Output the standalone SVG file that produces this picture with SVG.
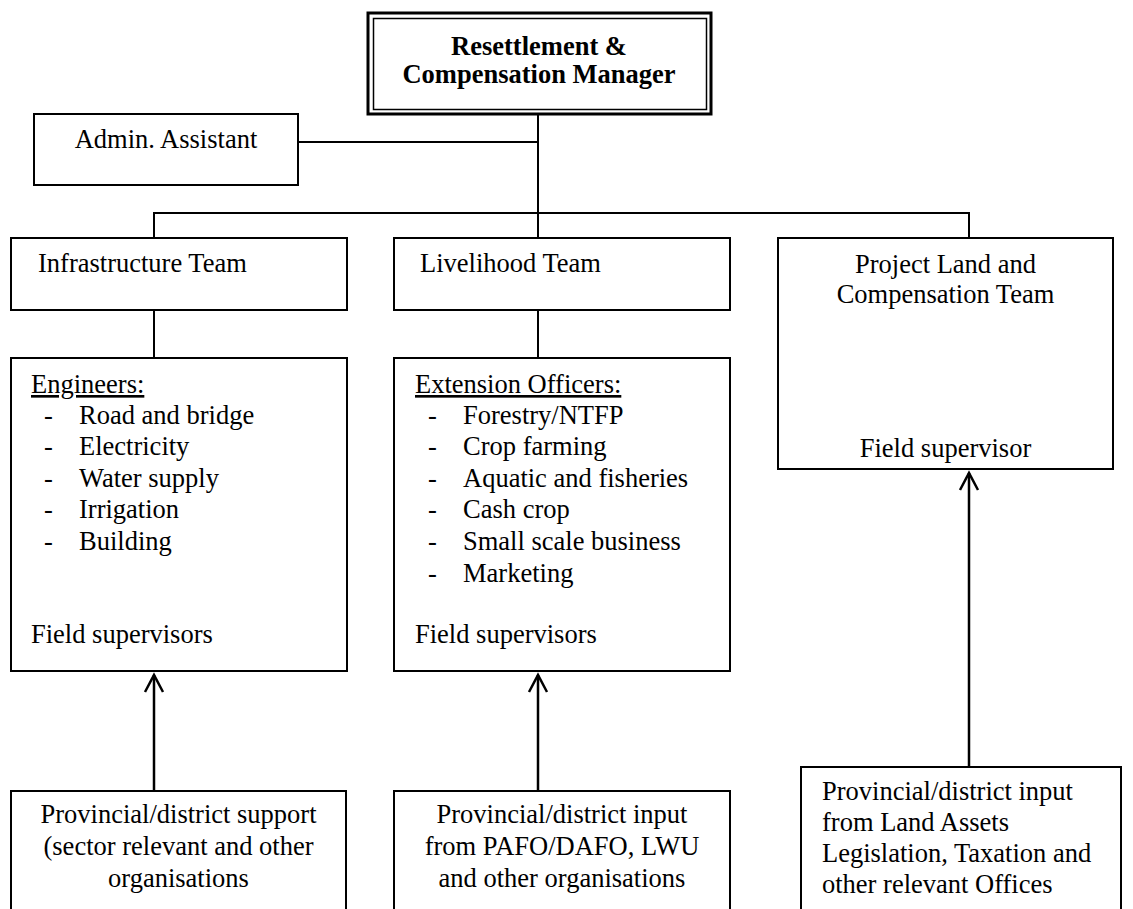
<svg xmlns="http://www.w3.org/2000/svg" width="1133" height="909" viewBox="0 0 1133 909">
<defs>
<style>
text{font-family:"Liberation Serif","Times New Roman",serif;font-size:26.5px;fill:#000}
.b{font-weight:bold}
.c{text-anchor:middle}
.u{text-decoration:underline}
.box{fill:#fff;stroke:#000;stroke-width:2}
.ln{fill:none;stroke:#000;stroke-width:2}
.ar{fill:none;stroke:#000;stroke-width:2.5}
</style>
<marker id="ah" markerUnits="userSpaceOnUse" markerWidth="24" markerHeight="24" refX="18" refY="10" orient="auto" viewBox="0 0 24 20">
<path d="M1,1 L18,10 L1,19" fill="none" stroke="#000" stroke-width="2.5"/>
</marker>
</defs>
<rect width="1133" height="909" fill="#fff"/>

<g id="connectors">
<line class="ln" x1="538" y1="115" x2="538" y2="238"/>
<line class="ln" x1="298" y1="142" x2="538" y2="142"/>
<polyline class="ln" points="154,238 154,213 969,213 969,238"/>
<line class="ln" x1="154" y1="310" x2="154" y2="358"/>
<line class="ln" x1="538" y1="310" x2="538" y2="358"/>
<line class="ar" x1="154" y1="791" x2="154" y2="675" marker-end="url(#ah)"/>
<line class="ar" x1="538" y1="791" x2="538" y2="675" marker-end="url(#ah)"/>
<line class="ar" x1="969" y1="767" x2="969" y2="473" marker-end="url(#ah)"/>
</g>

<g id="manager">
<rect x="368" y="13" width="343" height="101" fill="#fff" stroke="#000" stroke-width="3"/>
<rect x="373.5" y="18.5" width="333" height="91" fill="none" stroke="#000" stroke-width="1.5"/>
<text class="b c" x="539" y="55">Resettlement &amp;</text>
<text class="b c" x="539" y="83">Compensation Manager</text>
</g>

<g id="admin">
<rect class="box" x="34" y="114" width="264" height="71"/>
<text class="c" x="166" y="148">Admin. Assistant</text>
</g>

<g id="infrastructure-team">
<rect class="box" x="11" y="238" width="336" height="72"/>
<text x="38" y="272">Infrastructure Team</text>
</g>

<g id="livelihood-team">
<rect class="box" x="394" y="238" width="336" height="72"/>
<text x="420" y="272">Livelihood Team</text>
</g>

<g id="land-team">
<rect class="box" x="778" y="238" width="335" height="231"/>
<text class="c" x="945.5" y="273">Project Land and</text>
<text class="c" x="945.5" y="303">Compensation Team</text>
<text class="c" x="945.5" y="457">Field supervisor</text>
</g>

<g id="engineers">
<rect class="box" x="11" y="358" width="336" height="313"/>
<text class="u" x="31" y="393">Engineers:</text>
<text x="44" y="424">-</text><text x="79" y="424">Road and bridge</text>
<text x="44" y="455">-</text><text x="79" y="455">Electricity</text>
<text x="44" y="487">-</text><text x="79" y="487">Water supply</text>
<text x="44" y="518">-</text><text x="79" y="518">Irrigation</text>
<text x="44" y="550">-</text><text x="79" y="550">Building</text>
<text x="31" y="643">Field supervisors</text>
</g>

<g id="extension">
<rect class="box" x="394" y="358" width="336" height="313"/>
<text class="u" x="415" y="393">Extension Officers:</text>
<text x="428" y="424">-</text><text x="463" y="424">Forestry/NTFP</text>
<text x="428" y="455">-</text><text x="463" y="455">Crop farming</text>
<text x="428" y="487">-</text><text x="463" y="487">Aquatic and fisheries</text>
<text x="428" y="518">-</text><text x="463" y="518">Cash crop</text>
<text x="428" y="550">-</text><text x="463" y="550">Small scale business</text>
<text x="428" y="582">-</text><text x="463" y="582">Marketing</text>
<text x="415" y="643">Field supervisors</text>
</g>

<g id="support-infra">
<rect class="box" x="11" y="791" width="335" height="140"/>
<text class="c" x="178.5" y="823">Provincial/district support</text>
<text class="c" x="178.5" y="855">(sector relevant and other</text>
<text class="c" x="178.5" y="887">organisations</text>
</g>

<g id="support-livelihood">
<rect class="box" x="394" y="791" width="336" height="140"/>
<text class="c" x="562" y="823">Provincial/district input</text>
<text class="c" x="562" y="855">from PAFO/DAFO, LWU</text>
<text class="c" x="562" y="887">and other organisations</text>
</g>

<g id="support-land">
<rect class="box" x="801" y="767" width="320" height="160"/>
<text x="822" y="800">Provincial/district input</text>
<text x="822" y="831">from Land Assets</text>
<text x="822" y="862">Legislation, Taxation and</text>
<text x="822" y="893">other relevant Offices</text>
</g>
</svg>
